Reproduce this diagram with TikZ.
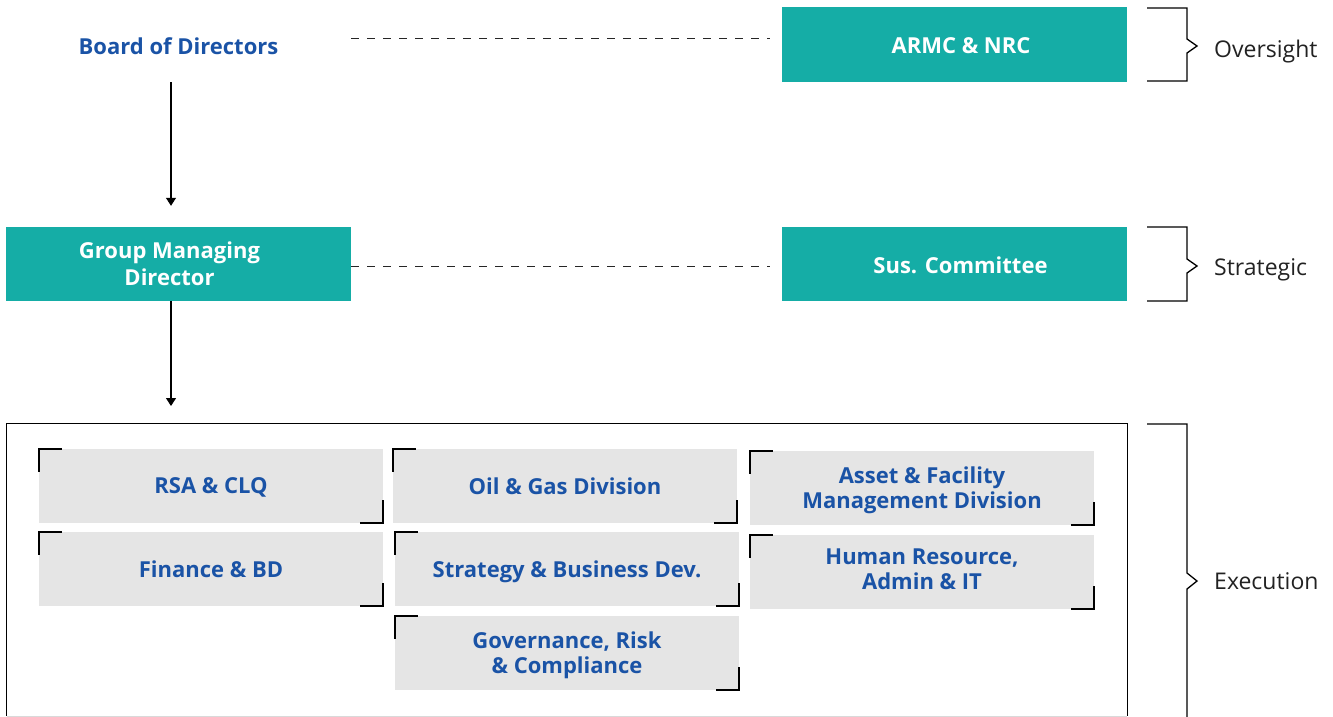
\documentclass[tikz,border=0pt]{standalone}
\usepackage{fontspec}
\setmainfont{Open Sans}
\usetikzlibrary{arrows.meta}
\definecolor{govteal}{HTML}{15ADA6}
\definecolor{deptblue}{HTML}{1A53A6}
\definecolor{unitgray}{HTML}{E5E5E5}
\definecolor{tiertext}{HTML}{222222}
\begin{document}
\begin{tikzpicture}[x=1pt,y=-1pt,
  tealbox/.style={fill=govteal, minimum width=345pt, minimum height=74pt, inner sep=0pt},
  tealtext/.style={text=white, font=\bfseries\fontsize{22}{27}\selectfont, align=center},
  plainbox/.style={minimum width=345pt, minimum height=70pt, inner sep=0pt,
    text=deptblue, font=\bfseries\fontsize{22}{25}\selectfont},
  unit/.style={fill=unitgray, minimum width=344pt, minimum height=74pt, inner sep=0pt,
    text=deptblue, font=\bfseries\fontsize{22}{25}\selectfont, align=center, text depth=0pt},
  corner/.style={draw=black, line width=2pt, line cap=rect},
  dashline/.style={draw=black!85, line width=1pt, dash pattern=on 8pt off 8pt},
  flow/.style={draw=black, line width=1.1pt, -{Triangle[width=10pt,length=8pt]}},
  frame/.style={draw=black, line width=1.1pt},
  tierbrace/.style={draw=black, line width=1.3pt, line join=miter},
  tier/.style={anchor=west, text=tiertext, font=\fontsize{23}{26}\selectfont, inner sep=0pt}]
\useasboundingbox (0,0) rectangle (1333,717);

% oversight level
\node[plainbox] (board) at (178.5,46.5) {Board of Directors};
\node[tealbox, label={[tealtext, xshift=6.5pt, yshift=-1.5pt]center:ARMC \& NRC}] (armc) at (954.5,44.5) {};
\draw[dashline] ([yshift=7.5pt]board.east) -- ([xshift=-12pt,yshift=5.5pt]armc.west);

% strategic level
\node[tealbox, label={[tealtext, xshift=-9pt]center:Group Managing\\Director}] (gmd) at (178.5,264) {};
\node[tealbox, label={[tealtext, xshift=6pt, yshift=-1.5pt]center:Sus. Committee}] (sus) at (954.5,264) {};
\draw[dashline] ([yshift=-2pt]gmd.east) -- ([xshift=-12pt,yshift=-2pt]sus.west);

\draw[flow] ([xshift=-7.5pt,yshift=-0.5pt]board.south) -- ([xshift=-7.5pt,yshift=21pt]gmd.north);

% execution level
\node[minimum width=1120pt, minimum height=292pt, inner sep=0pt] (exec) at (567,570) {};
\draw[frame] (exec.south west) -- (exec.north west) -- (exec.north east) -- (exec.south east);
\draw[draw=black!15, line width=1.2pt] (exec.south west) -- (exec.south east);
\coordinate (execin) at (171,406);
\draw[flow] ([xshift=-7.5pt]gmd.south) -- (execin);

\node[unit] (rsa) at (211,486) {RSA \& CLQ};
\node[unit] (fin) at (211,569) {Finance \& BD};
\node[unit] (oil) at (565,486) {Oil \& Gas Division};
\node[unit] (sbd) at (567,569) {Strategy \& Business Dev.};
\node[unit] (grc) at (567,653) {Governance, Risk\\\& Compliance};
\node[unit] (afm) at (922,488) {Asset \& Facility\\Management Division};
\node[unit, text depth=5pt] (hr)  at (922,572) {Human Resource,\\Admin \& IT};

\foreach \n in {rsa,fin,oil,sbd,grc,afm,hr}{
  \draw[corner] ([yshift=-22pt]\n.north west) -- (\n.north west) -- ([xshift=22pt]\n.north west);
  \draw[corner] ([yshift=22pt]\n.south east) -- (\n.south east) -- ([xshift=-22pt]\n.south east);
}

% level braces and captions
\draw[tierbrace] (1147,8) -- (1187,8) -- (1187,39) -- (1197,46) -- (1187,53) -- (1187,81) -- (1147,81);
\draw[tierbrace] (1147,227) -- (1187,227) -- (1187,259) -- (1197,266) -- (1187,273) -- (1187,301) -- (1147,301);
\draw[tierbrace] (1147,424) -- (1187,424) -- (1187,573) -- (1197,581) -- (1187,589) -- (1187,717);

\node[tier] (oversight) at (1214,52) {Oversight};
\node[tier] (strategic) at (1214,270) {Strategic};
\node[tier] (execution) at (1214,581) {Execution};
\end{tikzpicture}
\end{document}
